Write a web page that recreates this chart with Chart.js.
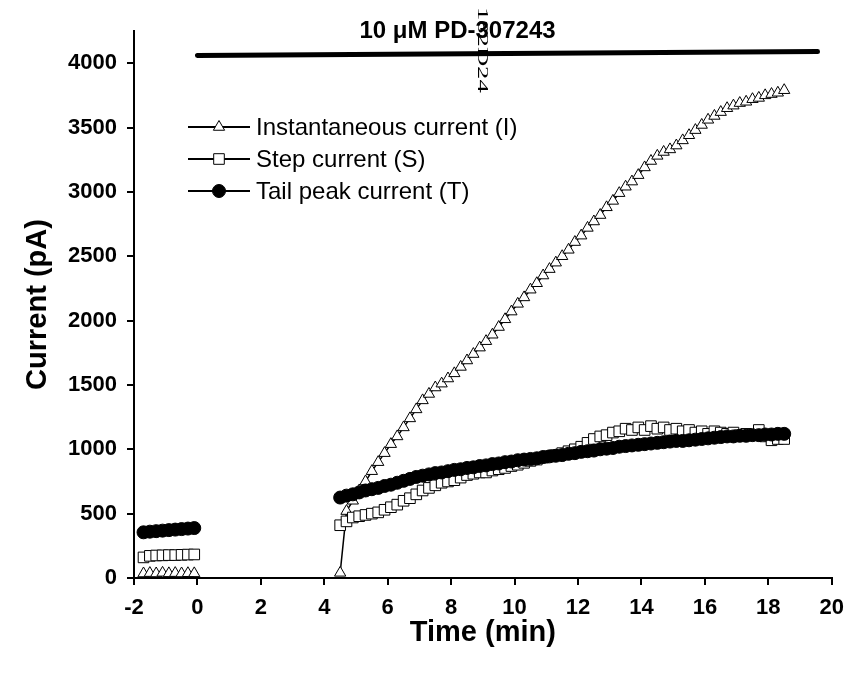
<!DOCTYPE html>
<html lang="en">
<head>
<meta charset="UTF-8">
<title>PD-307243 current vs time</title>
<style>
  body { margin: 0; background: #fff; }
  #wrap { width: 854px; height: 677px; }
</style>
</head>
<body>
<div id="wrap"><canvas id="myChart" width="854" height="677"></canvas></div>
<script src="https://cdn.jsdelivr.net/npm/chart.js"></script>
<script>
  // sample times (min), before and after drug wash-in
  const preTimes = [-1.7, -1.5, -1.3, -1.1, -0.9, -0.7, -0.5, -0.3, -0.1];
  const postTimes = [
    4.5, 4.7, 4.9, 5.1, 5.3, 5.5, 5.7, 5.9, 6.1, 6.3,
    6.5, 6.7, 6.9, 7.1, 7.3, 7.5, 7.7, 7.9, 8.1, 8.3,
    8.5, 8.7, 8.9, 9.1, 9.3, 9.5, 9.7, 9.9, 10.1, 10.3,
    10.5, 10.7, 10.9, 11.1, 11.3, 11.5, 11.7, 11.9, 12.1, 12.3,
    12.5, 12.7, 12.9, 13.1, 13.3, 13.5, 13.7, 13.9, 14.1, 14.3,
    14.5, 14.7, 14.9, 15.1, 15.3, 15.5, 15.7, 15.9, 16.1, 16.3,
    16.5, 16.7, 16.9, 17.1, 17.3, 17.5, 17.7, 17.9, 18.1, 18.3,
    18.5
  ];

  // Instantaneous current (I), pA
  const instPre = [35, 38, 35, 40, 36, 38, 35, 37, 36];
  const instPost = [
    40, 520, 600, 680, 750, 830, 900, 970, 1040, 1100,
    1170, 1240, 1310, 1380, 1430, 1480, 1510, 1550, 1590, 1640,
    1690, 1740, 1790, 1840, 1890, 1950, 2010, 2070, 2130, 2180,
    2240, 2290, 2350, 2400, 2450, 2500, 2550, 2610, 2660, 2720,
    2770, 2820, 2880, 2930, 2990, 3040, 3080, 3130, 3190, 3240,
    3280, 3310, 3330, 3360, 3400, 3440, 3480, 3520, 3560, 3590,
    3620, 3650, 3670, 3690, 3700, 3720, 3730, 3750, 3760, 3770,
    3790
  ];

  // Step current (S), pA
  const stepPre = [160, 172, 175, 176, 178, 178, 180, 182, 183];
  const stepPost = [
    410, 440, 470, 480, 490, 500, 510, 530, 550, 570,
    600, 620, 650, 680, 700, 720, 740, 750, 760, 780,
    800, 810, 820, 820, 835, 845, 855, 870, 880, 895,
    910, 920, 935, 945, 955, 970, 985, 1000, 1020, 1050,
    1080, 1100, 1110, 1130, 1140, 1160, 1150, 1170, 1150, 1180,
    1160, 1170, 1150, 1160, 1140, 1150, 1130, 1140, 1120, 1140,
    1130, 1120, 1130, 1110, 1120, 1110, 1150, 1100, 1070, 1080,
    1080
  ];

  // Tail peak current (T), pA
  const tailPre = [355, 360, 364, 368, 372, 376, 380, 384, 388];
  const tailPost = [
    625, 640, 650, 665, 680, 690, 700, 715, 725, 740,
    755, 770, 785, 795, 805, 815, 820, 830, 840, 845,
    855, 860, 870, 875, 885, 890, 900, 905, 915, 920,
    925, 930, 940, 945, 950, 955, 965, 970, 980, 985,
    990, 1000, 1005, 1010, 1020, 1025, 1030, 1035, 1040, 1045,
    1050, 1055, 1060, 1065, 1065, 1070, 1075, 1080, 1085, 1090,
    1095, 1100, 1100, 1105, 1105, 1110, 1110, 1115, 1115, 1120,
    1120
  ];

  // drug application bar (time, level)
  const barTimes = [0, 19.55];
  const barLevels = [4060, 4090];

  const xTicks = [-2, 0, 2, 4, 6, 8, 10, 12, 14, 16, 18, 20];
  const yTicks = [0, 500, 1000, 1500, 2000, 2500, 3000, 3500, 4000];

  const seriesNames = ['Instantaneous current (I)', 'Step current (S)', 'Tail peak current (T)'];
  const drugLabel = '10 \u03bcM PD-307243';
  const cellCode = '182D24';

  function toPoints(pre, post) {
    const pts = preTimes.map((t, i) => ({ x: t, y: pre[i] }));
    pts.push({ x: 2, y: null }); // gap during wash-in
    postTimes.forEach((t, i) => pts.push({ x: t, y: post[i] }));
    return pts;
  }

  const markers = [
    { style: 'triangle', radius: 6.5, fill: '#fff' },
    { style: 'rect', radius: 7.5, fill: '#fff' },
    { style: 'circle', radius: 6.5, fill: '#000' }
  ];

  const overlay = {
    id: 'overlay',
    afterDatasetsDraw(chart) {
      const { ctx, chartArea, scales } = chart;
      ctx.save();
      ctx.fillStyle = '#000';

      // drug label above the bar
      ctx.font = 'bold 24px "Liberation Sans", Arial, sans-serif';
      ctx.textAlign = 'center';
      ctx.textBaseline = 'middle';
      ctx.fillText(drugLabel, scales.x.getPixelForValue(8.2), chartArea.top);

      // legend
      ctx.font = '24px "Liberation Sans", Arial, sans-serif';
      ctx.textAlign = 'left';
      seriesNames.forEach((name, i) => {
        const yy = 127 + i * 32;
        ctx.strokeStyle = '#000';
        ctx.lineWidth = 2;
        ctx.beginPath();
        ctx.moveTo(188, yy);
        ctx.lineTo(250, yy);
        ctx.stroke();
        ctx.fillStyle = markers[i].fill;
        ctx.lineWidth = 1;
        Chart.helpers.drawPoint(ctx, {
          pointStyle: markers[i].style,
          radius: markers[i].radius,
          rotation: 0,
          borderWidth: 1
        }, 219, yy);
        ctx.fillStyle = '#000';
        ctx.fillText(name, 256, yy + 1);
      });

      // rotated cell code (stretched along its baseline)
      ctx.translate(482, 7);
      ctx.rotate(Math.PI / 2);
      ctx.scale(1.9, 1);
      ctx.font = '14px "Liberation Serif", "DejaVu Serif", serif';
      ctx.textAlign = 'left';
      ctx.textBaseline = 'middle';
      ctx.fillStyle = '#000';
      ctx.fillText(cellCode, 0, 0);
      ctx.restore();
    }
  };

  function seriesDataset(name, pts, m, order) {
    return {
      label: name,
      data: pts,
      borderColor: '#000',
      borderWidth: 1.5,
      pointStyle: m.style,
      pointRadius: m.radius,
      pointBackgroundColor: m.fill,
      pointBorderColor: '#000',
      pointBorderWidth: 1,
      spanGaps: false,
      clip: false,
      order: order
    };
  }

  const tickFont = { family: '"Liberation Sans", Arial, sans-serif', size: 22, weight: 'bold' };
  const titleFont = { family: '"Liberation Sans", Arial, sans-serif', size: 29, weight: 'bold' };

  const ctx = document.getElementById('myChart').getContext('2d');
  const chart = new Chart(ctx, {
    type: 'line',
    data: {
      datasets: [
        seriesDataset(seriesNames[0], toPoints(instPre, instPost), markers[0], 2),
        seriesDataset(seriesNames[1], toPoints(stepPre, stepPost), markers[1], 1),
        seriesDataset(seriesNames[2], toPoints(tailPre, tailPost), markers[2], 0),
        {
          label: 'drug',
          data: barTimes.map((t, i) => ({ x: t, y: barLevels[i] })),
          borderColor: '#000',
          borderWidth: 5,
          borderCapStyle: 'round',
          pointRadius: 0,
          clip: false,
          order: 3
        }
      ]
    },
    options: {
      responsive: false,
      animation: false,
      devicePixelRatio: 1,
      layout: { padding: { top: 31, right: 16, left: 0, bottom: 0 } },
      plugins: {
        legend: { display: false },
        tooltip: { enabled: false }
      },
      scales: {
        x: {
          type: 'linear',
          min: -2,
          max: 20,
          afterFit: (s) => { s.height = 99; },
          afterBuildTicks: (s) => { s.ticks = xTicks.map(v => ({ value: v })); },
          border: { display: true, color: '#000', width: 2 },
          grid: { display: true, drawOnChartArea: false, drawTicks: true, tickLength: 7, color: '#000', lineWidth: 2 },
          ticks: { color: '#000', font: tickFont, padding: 10, maxRotation: 0, callback: (v) => String(v) },
          title: { display: true, text: 'Time (min)', color: '#000', font: titleFont, padding: { bottom: 27 } }
        },
        y: {
          type: 'linear',
          min: 0,
          max: 4250,
          afterFit: (s) => { s.width = 134; },
          afterBuildTicks: (s) => { s.ticks = yTicks.map(v => ({ value: v })); },
          border: { display: true, color: '#000', width: 2 },
          grid: { display: true, drawOnChartArea: false, drawTicks: true, tickLength: 7, color: '#000', lineWidth: 2 },
          ticks: { color: '#000', font: tickFont, padding: 10, callback: (v) => String(v) },
          title: { display: true, text: 'Current (pA)', color: '#000', font: titleFont, padding: { top: 21 } }
        }
      }
    },
    plugins: [overlay]
  });
</script>
</body>
</html>
